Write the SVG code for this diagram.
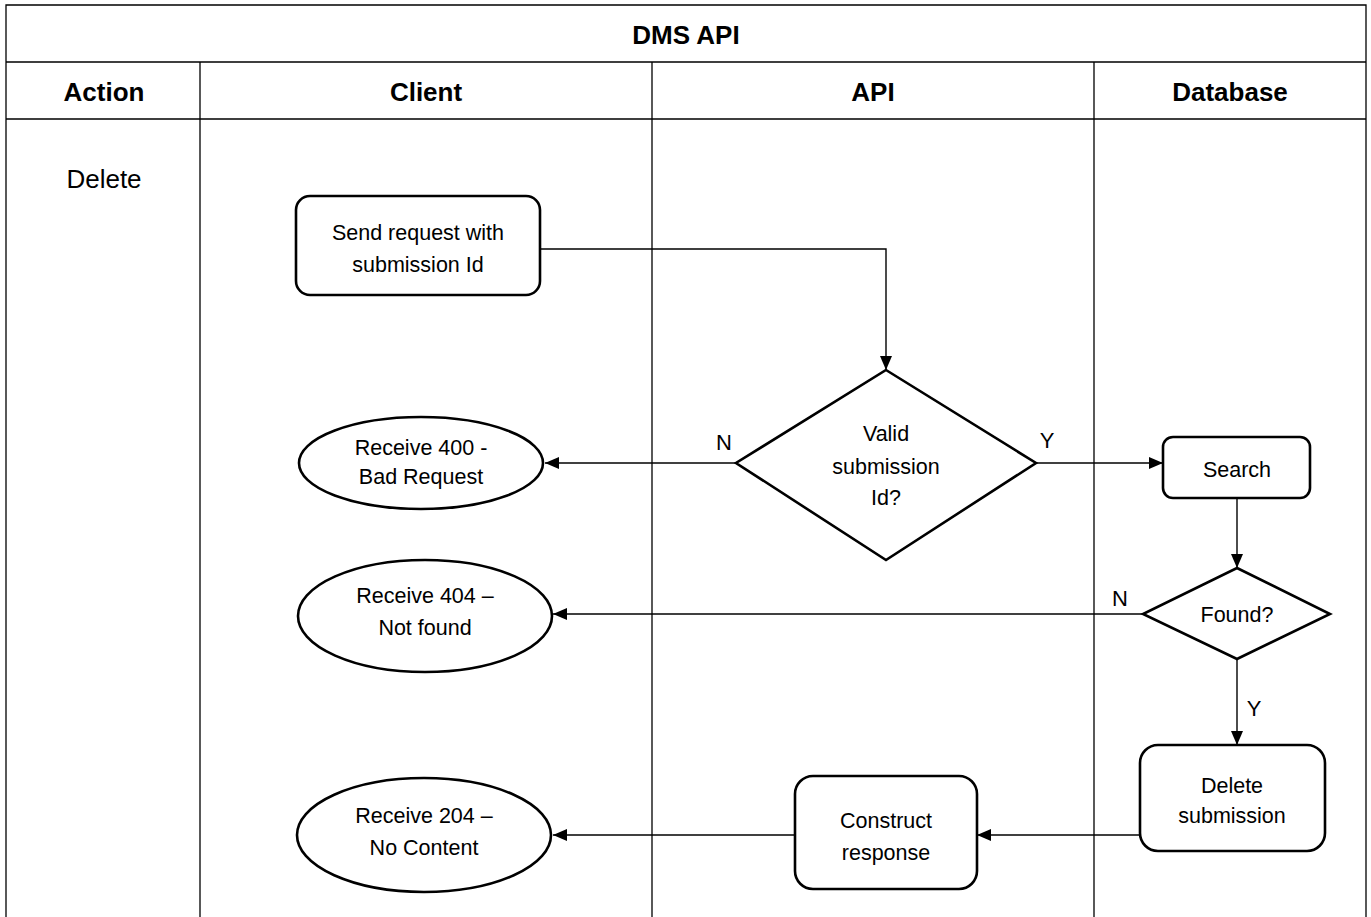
<svg xmlns="http://www.w3.org/2000/svg" width="1371" height="917" viewBox="0 0 1371 917">
<style>
text{font-family:"Liberation Sans",Arial,sans-serif;fill:#000;text-anchor:middle}
.hd{font-size:26px;font-weight:bold}
.lb{font-size:21.5px}
.yn{font-size:22px}
.tbl{stroke:#000;stroke-width:1.3;fill:none}
.node{fill:#fff;stroke:#000;stroke-width:2.6}
.con{fill:none;stroke:#000;stroke-width:1.4}
</style>
<defs>
<marker id="ah" viewBox="0 0 14 12" refX="14" refY="6" markerWidth="14" markerHeight="12" markerUnits="userSpaceOnUse" orient="auto">
<path d="M0,0 L14,6 L0,12 Z" fill="#000"/>
</marker>
</defs>
<rect width="1371" height="917" fill="#fff"/>
<g id="table">
<path class="tbl" d="M6,917 V5 H1366 V917 M6,62 H1366 M6,119 H1366 M200,62 V917 M652,62 V917 M1094,62 V917"/>
<text class="hd" x="686" y="44">DMS API</text>
<text class="hd" x="104" y="101">Action</text>
<text class="hd" x="426" y="101">Client</text>
<text class="hd" x="873" y="101">API</text>
<text class="hd" x="1230" y="101">Database</text>
<text x="104" y="188" style="font-size:26px">Delete</text>
</g>
<g id="connectors">
<path class="con" d="M540,249 H886 V370" marker-end="url(#ah)"/>
<path class="con" d="M736,463 H545" marker-end="url(#ah)"/>
<path class="con" d="M1036,463 H1163" marker-end="url(#ah)"/>
<path class="con" d="M1237,498 V568" marker-end="url(#ah)"/>
<path class="con" d="M1143,614 H553" marker-end="url(#ah)"/>
<path class="con" d="M1237,659 V745" marker-end="url(#ah)"/>
<path class="con" d="M1140,835 H977" marker-end="url(#ah)"/>
<path class="con" d="M795,835 H553" marker-end="url(#ah)"/>
<text class="yn" x="724" y="450">N</text>
<text class="yn" x="1047" y="448">Y</text>
<text class="yn" x="1120" y="606">N</text>
<text class="yn" x="1254" y="716">Y</text>
</g>
<g id="send">
<rect class="node" x="296" y="196" width="244" height="99" rx="14"/>
<text class="lb" x="418" y="240">Send request with</text>
<text class="lb" x="418" y="272">submission Id</text>
</g>
<g id="valid">
<polygon class="node" points="886,370 1036,463 886,560 736,463"/>
<text class="lb" x="886" y="441">Valid</text>
<text class="lb" x="886" y="474">submission</text>
<text class="lb" x="886" y="505">Id?</text>
</g>
<g id="r400">
<ellipse class="node" cx="421" cy="463" rx="122" ry="46"/>
<text class="lb" x="421" y="455">Receive 400 -</text>
<text class="lb" x="421" y="484">Bad Request</text>
</g>
<g id="search">
<rect class="node" x="1163" y="437" width="147" height="61" rx="10"/>
<text class="lb" x="1237" y="477">Search</text>
</g>
<g id="found">
<polygon class="node" points="1237,568 1330,614 1237,659 1143,614"/>
<text class="lb" x="1237" y="622">Found?</text>
</g>
<g id="r404">
<ellipse class="node" cx="425" cy="616" rx="127" ry="56"/>
<text class="lb" x="425" y="603">Receive 404 –</text>
<text class="lb" x="425" y="635">Not found</text>
</g>
<g id="delete">
<rect class="node" x="1140" y="745" width="185" height="106" rx="18"/>
<text class="lb" x="1232" y="793">Delete</text>
<text class="lb" x="1232" y="823">submission</text>
</g>
<g id="construct">
<rect class="node" x="795" y="776" width="182" height="113" rx="18"/>
<text class="lb" x="886" y="828">Construct</text>
<text class="lb" x="886" y="860">response</text>
</g>
<g id="r204">
<ellipse class="node" cx="424" cy="835" rx="127" ry="57"/>
<text class="lb" x="424" y="823">Receive 204 –</text>
<text class="lb" x="424" y="855">No Content</text>
</g>
</svg>
